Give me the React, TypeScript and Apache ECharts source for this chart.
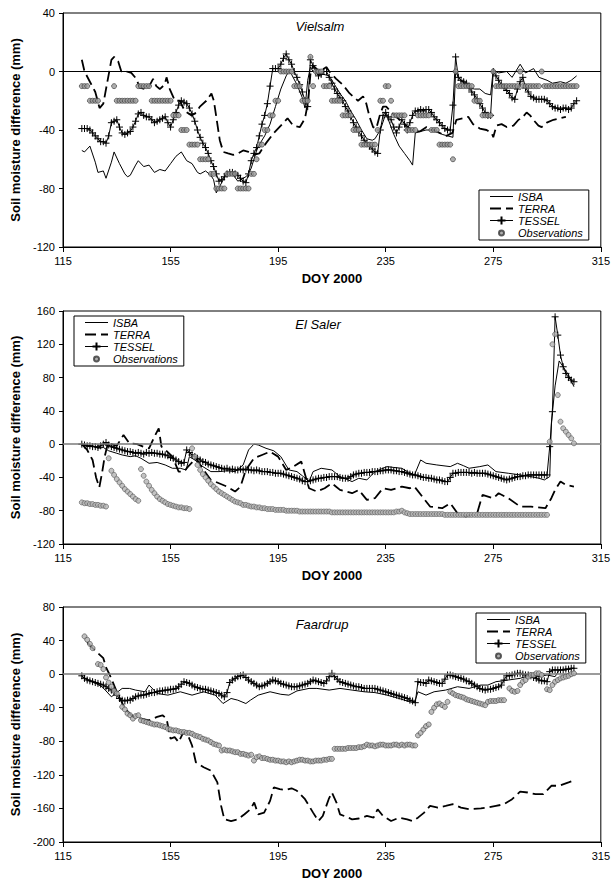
import React, { useEffect, useRef } from "react";
import * as echarts from "echarts";

const FONT = '"Liberation Sans", Arial, Helvetica, sans-serif';

// Axis extents and tick steps
const X_MIN = 115;
const X_MAX = 315;
const X_STEP = 40;
const Y_RANGES: [number, number][] = [
  [-120, 40],
  [-120, 160],
  [-200, 80],
];
const Y_STEP = 40;

const SITES = ["Vielsalm", "El Saler", "Faardrup"];
const X_NAME = "DOY 2000";
const Y_NAME = "Soil moisture difference (mm)";

// ---------- Vielsalm ----------
const VIELSALM_ISBA: [number, number][] = [
  [122, -54], [123, -55], [125, -51], [127, -62], [128, -69], [130, -68], [131, -73], [133, -62], [134, -55],
  [136, -63], [138, -70], [139, -72], [140, -71], [142, -64], [143, -61], [145, -65], [147, -64], [149, -69],
  [151, -67], [153, -68], [155, -63], [157, -58], [159, -55], [161, -61], [163, -63], [165, -69], [166, -70],
  [168, -68], [170, -71], [171, -74], [172, -83], [174, -76], [176, -69], [178, -70], [180, -75], [182, -73],
  [183, -72], [184, -70], [185, -66], [186, -60], [187, -54], [188, -50], [190, -44], [192, -36], [194, -24],
  [196, -12], [198, -3], [199, 0], [200, -2], [202, -9], [204, -18], [205, -25], [206, -6], [207, 3], [208, 0],
  [210, -1], [212, -2], [214, -3], [216, -9], [218, -15], [220, -20], [222, -27], [224, -33], [226, -40],
  [228, -46], [230, -47], [231, -46], [233, -40], [235, -29], [236, -33], [238, -43], [240, -51], [242, -56],
  [244, -61], [245, -64], [246, -42], [248, -41], [250, -40], [252, -40], [254, -41], [256, -43], [258, -44],
  [260, -45], [261, 0], [262, -4], [264, -8], [266, -11], [268, -12], [270, -12], [272, -15], [274, -16],
  [275, 1], [277, -1], [280, 0], [282, -4], [285, 5], [287, -1], [290, 2], [292, -4], [295, -6], [297, -8],
  [300, -7], [302, -8], [304, -6], [306, -3],
];
const VIELSALM_TERRA: [number, number][] = [
  [122, 8], [123, 0], [125, -7], [127, -14], [128.6, -25], [130, -22], [131.4, -8], [133, 8], [134, 10],
  [135.5, 7], [136.7, 0], [138.6, 0], [140.4, -1], [142.3, -5], [143.5, -11], [145.4, -12], [146.5, -12],
  [148.5, -5], [149.7, -10], [151, -12], [152.8, -9], [153.5, -4], [154.7, -12], [156.6, -20], [158.4, -20],
  [160.3, -27], [162.8, -30], [164.6, -28], [165.9, -24], [168.3, -20], [170.2, -15], [171.1, -20], [172, -31],
  [173.3, -47], [174.6, -55], [176.4, -56], [178.3, -57], [180.1, -56], [182, -54], [184, -55], [186, -57],
  [188, -56], [190.5, -49], [193.4, -42], [196, -37], [198.5, -32], [200.6, -37], [203.1, -38], [205, -32],
  [206.2, -20], [207, -2], [208, 4], [210.4, 0], [213, 3], [214, 0], [216.6, -5], [219, -9], [221.6, -15],
  [224.7, -20], [226.6, -17], [227.8, -22], [229, -31], [230.3, -38], [231.5, -39], [232.8, -30], [234, -24],
  [235.2, -24], [237.7, -29], [240.2, -33], [242.7, -37], [245.2, -41], [247.7, -41], [250.2, -38],
  [252.6, -40], [255, -42], [257.6, -44], [259.8, -42], [261.3, -33], [263.8, -32], [265.7, -31], [267.5, -36],
  [270, -39], [272.5, -40], [274.4, -42], [275, -45], [276.2, -37], [278.1, -36], [280, -38], [282.5, -37],
  [284.4, -33], [285.6, -32], [287.4, -28], [288.7, -30], [289.9, -33], [291.8, -37], [293, -38], [294.9, -35],
  [297.4, -33], [299.8, -32], [302, -31],
];
// daily values from DOY 122
const VIELSALM_TESSEL_START = 122;
const VIELSALM_TESSEL = [
  -39, -39, -39, -40, -42, -44, -46, -48, -48, -49,
  -44, -35, -34, -33, -38, -42, -43, -42, -41, -38,
  -34, -29, -28, -30, -31, -31, -33, -35, -34, -33,
  -32, -31, -35, -38, -33, -28, -23, -20, -21, -22,
  -25, -29, -34, -40, -45, -49, -52, -56, -61, -65,
  -70, -75, -74, -72, -70, -69, -69, -70, -71, -73,
  -75, -76, -70, -61, -56, -52, -44, -36, -30, -22,
  -10, 2, 2, 2, 5, 9, 12, 8, 5, 0,
  -4, -9, -14, -20, -24, 8, 4, 0, -3, -2,
  0, 0, -4, -8, -12, -15, -18, -20, -24, -27,
  -31, -35, -38, -41, -44, -47, -49, -51, -53, -55,
  -56, -40, -30, -28, -31, -33, -38, -42, -38, -33,
  -36, -40, -35, -30, -27, -27, -26, -27, -26, -26,
  -28, -31, -33, -35, -37, -39, -40, -40, -23, 10,
  -4, -6, -7, -8, -11, -14, -16, -19, -22, -25,
  -28, -30, -30, 0, -3, -6, -9, -11, -13, -15,
  -18, -19, -12, -7, -4, -11, -14, -17, -18, -19,
  -19, -19, -19, -20, -22, -24, -25, -25, -26, -25,
  -25, -26, -25, -22, -20,
];
const VIELSALM_OBS_START = 122;
const VIELSALM_OBS: (number | null)[] = [
  -10, -10, -10, -20, -20, -20, -20, null, null, null,
  null, null, -10, -20, -20, -20, -20, -20, -20, -20,
  -20, -10, -10, -10, -10, -10, -20, -20, -20, -20,
  -20, -20, -20, -20, -30, -30, -30, -40, -40, -40,
  -50, -50, -50, -50, -60, -60, -60, -60, -70, -70,
  -80, -80, -80, -80, -70, -70, -70, -70, -80, -80,
  -80, -80, -80, -70, -70, -60, -50, -50, -40, -40,
  -30, -30, -20, -20, 0, 0, 0, 0, 0, -10,
  -10, -10, -20, -20, -20, 10, -10, 0, 0, 0,
  -10, -10, -10, -20, -20, -20, -20, -30, -30, -30,
  -30, -40, -40, -40, -50, -50, -50, -50, -50, -50,
  -40, -20, -20, -10, -10, -20, -30, -30, -30, -30,
  -30, -40, -40, -40, -40, -30, -30, -30, -30, -30,
  -40, -40, -40, -50, -50, -50, -50, -50, -60, 0,
  -10, -10, -10, -10, -10, -10, -20, -20, -20, -30,
  -30, -30, -30, 0, -10, -10, -10, -10, -10, -10,
  -10, -10, -10, 0, -10, -10, -10, -10, -10, -10,
  -10, 0, -10, -10, -10, -10, -10, -10, -10, -10,
  -10, -10, -10, -10, -10,
];

// ---------- El Saler ----------
const ELSALER_ISBA: [number, number][] = [
  [122, 0], [124, -3], [126, -2], [128, -5], [130, -4], [132, -8], [135, -11], [137, -13], [140, -15],
  [142, -14], [144, -17], [147, -23], [150, -22], [153, -25], [155.7, -29], [158.6, -29], [160.8, -31],
  [162, -15], [164, -19], [167, -27], [170, -33], [173, -33], [176, -32], [179, -33], [182, -25], [184, -7],
  [186, 0], [187.6, -1], [190.5, -5], [193.4, -8], [196, -15], [199, -31], [202, -33], [204, -38],
  [206.5, -45], [208, -33], [211, -29], [215, -31], [218, -39], [222.5, -45], [225, -41], [228, -43],
  [231, -33], [235.5, -27], [238, -28], [241, -29], [243, -33], [245.7, -37], [248, -19], [250, -23],
  [254, -25], [259, -27], [261.7, -23], [264, -26], [266, -29], [270, -27], [273, -25], [276, -33],
  [280.6, -35], [285, -37], [289, -39], [292, -41], [294, -43], [296, -39], [296.6, 25], [298, 70],
  [299.5, 100], [301, 93], [303, 83], [305, 69],
];
const ELSALER_TERRA: [number, number][] = [
  [122, 0], [124, -7], [126, -19], [127.3, -40], [128.5, -52], [129.5, -35], [130.5, -15], [131.7, 1],
  [133, 0], [135, -2], [137.5, 11], [139.7, 1], [142.6, 0], [144.8, -3], [147, -5], [149, 9], [150.6, 19],
  [151.6, -3], [152.8, -6], [155.7, -15], [158, -33], [160, -33], [161.5, -27], [164.4, -17], [167.3, -31],
  [170, -43], [173, -47], [176, -51], [179, -57], [181, -51], [183, -31], [186, -17], [189, -13], [192, -9],
  [195, -15], [198, -31], [200.7, -27], [203.6, -21], [206.5, -53], [209.4, -57], [212.3, -53], [215, -47],
  [218, -55], [222.5, -59], [225, -55], [228, -67], [231, -65], [234, -53], [237, -55], [241, -51],
  [244, -53], [245.7, -51], [248.6, -63], [251.5, -75], [256, -77], [259, -71], [261.7, -83], [264.6, -87],
  [269, -83], [271, -61], [275, -65], [277, -59], [280.6, -65], [285, -75], [289, -75], [294.4, -77],
  [296.6, -65], [298, -55], [300, -45], [302, -49], [305, -51],
];
const ELSALER_TESSEL_START = 122;
const ELSALER_TESSEL = [
  0, -1, -2, -2, -3, -3, -4, -2, 0, 2,
  -1, -3, -4, -5, -6, -7, -8, -9, -9, -10,
  -11, -10, -11, -12, -10, -11, -10, -11, -11, -12,
  -12, -13, -14, -16, -17, -19, -21, -23, -22, -7,
  -10, -13, -15, -17, -19, -21, -22, -24, -25, -26,
  -27, -28, -29, -30, -29, -31, -30, -31, -31, -30,
  -31, -30, -31, -31, -32, -31, -32, -33, -33, -33,
  -34, -34, -35, -35, -35, -36, -37, -38, -39, -40,
  -41, -42, -44, -45, -45, -44, -43, -42, -41, -41,
  -40, -40, -39, -39, -39, -39, -40, -41, -41, -41,
  -39, -37, -36, -35, -35, -34, -34, -34, -33, -33,
  -33, -32, -32, -31, -31, -31, -32, -32, -33, -33,
  -34, -35, -36, -37, -37, -38, -39, -40, -40, -41,
  -41, -42, -43, -43, -44, -45, -45, -40, -35, -35,
  -34, -34, -34, -34, -34, -35, -34, -35, -35, -35,
  -35, -36, -37, -38, -39, -40, -41, -42, -43, -42,
  -41, -40, -39, -39, -38, -38, -37, -37, -37, -37,
  -37, -37, -37, -37, -3, 39, 153, 131, 107, 93,
  85, 80, 77, 75,
];
const ELSALER_OBS_START = 122;
const ELSALER_OBS: (number | null)[] = [
  -70, -71, -71, -72, -72, -73, -73, -74, -74, -75,
  -17, -32, -37, -42, -46, -50, -54, -57, -60, -63,
  -66, -68, -30, -38, -45, -50, -55, -59, -63, -66,
  -68, -70, -72, -73, -74, -75, -76, -76, -77, -77,
  -78, -5, -15, -25, -31, -36, -40, -44, -48, -51,
  -54, -57, -59, -61, -63, -65, -67, -69, -70, -71,
  -73, -73, -74, -75, -75, -76, -76, -77, -77, -78,
  -78, -78, -79, -79, -79, -79, -80, -80, -80, -80,
  -80, -81, -81, -81, -81, -81, -81, -81, -81, -81,
  -81, -81, -81, -82, -82, -82, -82, -82, -82, -82,
  -82, -82, -82, -82, -82, -82, -82, -82, -82, -82,
  -82, -82, -82, -82, -82, -82, -82, -81, -81, -80,
  -82, -83, -84, -84, -84, -84, -84, -84, -84, -84,
  -84, -84, -84, -84, -84, -85, -85, -85, -85, -85,
  -85, -85, -85, -85, -85, -85, -85, -85, -85, -85,
  -85, -85, -85, -85, -85, -85, -85, -85, -85, -85,
  -85, -85, -85, -85, -85, -85, -85, -85, -85, -85,
  -85, -85, -85, -85, 3, 120, 132, 59, 27, 19,
  15, 11, 7, 1,
];

// ---------- Faardrup ----------
const FAARDRUP_ISBA: [number, number][] = [
  [122, -3], [126, -9], [129.5, -15], [131, -20], [133, -27], [135, -22], [137, -17], [139.7, -17], [142, -19],
  [145.5, -21], [147, -13], [150, -23], [154, -25], [158.6, -21], [163, -25], [167.3, -21], [171.6, -25],
  [174.5, -35], [177.5, -29], [180, -31], [183, -35], [184.7, -31], [187.6, -25], [192, -21], [196, -24],
  [199, -25], [202, -20], [206.5, -17], [209.4, -17], [214, -19], [218, -17], [222.5, -19], [227, -21],
  [231, -22], [235.5, -25], [240, -29], [244, -33], [245.7, -34], [247, -21], [250, -25], [253, -21],
  [257.3, -19], [261.7, -15], [266, -17], [270.4, -13], [273, -13], [276, -9], [280.6, -7], [285, -5],
  [289, -1], [292, -3], [295, -1], [298, -3], [299.5, 5], [302, 5], [305, 7],
];
const FAARDRUP_TERRA: [number, number][] = [
  [124, 38], [126, 31], [128, 25], [130, 19], [131, 8], [132.4, -1], [135, -21], [138, -41], [141, -51],
  [144, -53], [147, -55], [150, -51], [152, -49], [153.5, -53], [155, -77], [156.5, -75], [158, -81],
  [159.5, -71], [161, -69], [163, -85], [164.4, -105], [167.3, -111], [170, -115], [172.4, -129],
  [173.8, -157], [175, -173], [177.5, -175], [180, -173], [182.5, -167], [184.7, -161], [186.1, -153],
  [187.6, -167], [189.8, -165], [192, -151], [193.4, -135], [195.6, -137], [198, -138], [200, -136],
  [202, -139], [205, -149], [208, -165], [210, -175], [211.6, -169], [213.8, -149], [215, -141],
  [216.7, -153], [218, -167], [219.6, -169], [222.5, -173], [225, -172], [228, -169], [230.5, -171],
  [232, -161], [234, -169], [237, -175], [240, -171], [243, -173], [245, -175], [247, -171], [249.3, -165],
  [251.5, -157], [254.4, -159], [257.3, -157], [260, -155], [263, -159], [266, -161], [270.4, -160],
  [273, -159], [276, -157], [279, -155], [282, -149], [285, -140], [287.8, -141], [290.7, -143],
  [293.6, -143], [296.6, -133], [299.5, -133], [303, -129], [305.6, -126],
];
const FAARDRUP_TESSEL_START = 122;
const FAARDRUP_TESSEL = [
  -2, -5, -7, -8, -9, -10, -11, -12, -13, -15,
  -17, -19, -21, -25, -29, -31, -32, -31, -31, -29,
  -27, -26, -25, -25, -24, -23, -22, -22, -21, -20,
  -20, -19, -19, -18, -18, -17, -15, -12, -9, -10,
  -11, -13, -15, -16, -17, -18, -18, -19, -20, -21,
  -22, -23, -25, -27, -22, -10, -7, -5, -3, -2,
  -1, -4, -7, -9, -11, -13, -15, -14, -13, -11,
  -9, -7, -8, -9, -11, -12, -13, -14, -15, -15,
  -15, -14, -13, -12, -11, -9, -7, -8, -9, -10,
  -11, -8, -3, 1, -3, -6, -9, -10, -11, -12,
  -13, -14, -15, -15, -16, -17, -17, -17, -17, -17,
  -18, -19, -20, -21, -22, -23, -24, -25, -26, -27,
  -28, -29, -31, -32, -34, -9, -10, -10, -11, -7,
  -8, -9, -10, -11, -11, -6, -1, -1, -2, -3,
  -4, -5, -6, -8, -9, -11, -13, -15, -17, -18,
  -19, -18, -18, -17, -16, -15, -13, -7, -2, -2,
  -1, 0, 1, 1, 0, -1, -1, -2, -4, -5,
  -7, -8, -8, -9, 3, 5, 5, 5, 5, 5,
  6, 6, 7, 7,
];
const FAARDRUP_OBS_START = 123;
const FAARDRUP_OBS: (number | null)[] = [
  45, 41, 36, 31, null, 12, 11, 6, -4, -10,
  -15, -20, -23, null, -39, -42, -47, -49, -53, -50,
  -49, -55, -56, -57, -58, -59, -60, -60, -61, -62,
  -63, -65, -66, -67, -67, -68, -69, -69, -70, -70,
  -71, -73, -74, -75, -77, -78, -79, -81, -83, -84,
  -85, -91, -90, -91, -91, -92, -93, -93, -95, -95,
  -96, -97, -96, -103, -99, -98, -100, -100, -101, -102,
  -102, -103, -103, -104, -104, -105, -104, -105, -104, -103,
  -102, -102, -103, -103, -104, -104, -103, -103, -103, -102,
  -102, -101, -101, -89, -89, -89, -89, -89, -88, -88,
  -88, -88, -87, -87, -86, -84, -85, -85, -86, -85,
  -84, -84, -85, -85, -85, -84, -84, -85, -84, -85,
  -84, -84, -85, -85, -73, -70, -66, -62, -60, -45,
  -40, -36, -35, -37, -39, -33, -21, -23, -25, -26,
  -27, -28, -30, -31, -32, -33, -34, -35, -36, -37,
  -33, -32, -32, -32, -31, -31, -31, null, -17, -20,
  -21, -20, -13, -9, -7, -3, -1, -1, 1, 1,
  -1, null, -18, -19, -13, -9, -7, -5, -4, -3,
  -2, 0, 1,
];

const daily = (start: number, vals: (number | null)[]) =>
  vals.map((v, i) => [start + i, v]);

const PANELS = [
  {
    isba: VIELSALM_ISBA,
    terra: VIELSALM_TERRA,
    tessel: daily(VIELSALM_TESSEL_START, VIELSALM_TESSEL),
    obs: daily(VIELSALM_OBS_START, VIELSALM_OBS),
  },
  {
    isba: ELSALER_ISBA,
    terra: ELSALER_TERRA,
    tessel: daily(ELSALER_TESSEL_START, ELSALER_TESSEL),
    obs: daily(ELSALER_OBS_START, ELSALER_OBS),
  },
  {
    isba: FAARDRUP_ISBA,
    terra: FAARDRUP_TERRA,
    tessel: daily(FAARDRUP_TESSEL_START, FAARDRUP_TESSEL),
    obs: daily(FAARDRUP_OBS_START, FAARDRUP_OBS),
  },
];

// layout of the three stacked plots
const GRID_LEFT = 63;
const GRID_RIGHT = 12;
const GRID_TOPS = [13, 311, 607];
const GRID_HEIGHTS = [234, 233, 235];
const TITLE_POS = [
  [320, 26],
  [318, 324],
  [322, 624],
];
const LEGEND_POS = [
  [479, 190],
  [74, 316],
  [476, 613],
];
const ZERO_STYLE = [
  { color: "#000", width: 1 },
  { color: "#7a7a7a", width: 1.6 },
  { color: "#7a7a7a", width: 1.5 },
];
const OBS_STYLE = [
  { color: "#9a9a9a", borderColor: "#333", borderWidth: 0.8 },
  { color: "#b4b4b4", borderColor: "#555", borderWidth: 0.8 },
  { color: "#b0b0b0", borderColor: "#444", borderWidth: 0.8 },
];

const PLUS = "path://M0,3.5L7,3.5M3.5,0L3.5,7";
const DOT_ICON =
  "path://M0,0M23,10M9,5a2.5,2.5 0 1,0 5,0a2.5,2.5 0 1,0 -5,0z";
const CLEAR = "rgba(0,0,0,0)";

export default function App() {
  const ref = useRef<HTMLDivElement>(null);

  useEffect(() => {
    document.body.style.margin = "0";
    if (!ref.current) return;
    const chart = echarts.init(ref.current, undefined, { renderer: "svg" });

    const grid = GRID_TOPS.map((top, i) => ({
      left: GRID_LEFT,
      right: GRID_RIGHT,
      top,
      height: GRID_HEIGHTS[i],
      show: true,
      borderColor: "#000",
      borderWidth: 1,
      backgroundColor: "transparent",
    }));

    const xAxis = GRID_TOPS.map((_, i) => ({
      type: "value",
      gridIndex: i,
      min: X_MIN,
      max: X_MAX,
      interval: X_STEP,
      name: X_NAME,
      nameLocation: "middle",
      nameGap: 25,
      nameTextStyle: { fontFamily: FONT, fontWeight: "bold", fontSize: 13, color: "#000" },
      axisLine: { onZero: false, lineStyle: { color: "#000", width: 1 } },
      axisTick: { show: true, length: 5, lineStyle: { color: "#000" } },
      axisLabel: { margin: 8, fontFamily: FONT, fontSize: 11, color: "#000" },
      splitLine: { show: false },
    }));

    const yAxis = Y_RANGES.map(([min, max], i) => ({
      type: "value",
      gridIndex: i,
      min,
      max,
      interval: Y_STEP,
      name: Y_NAME,
      nameLocation: "middle",
      nameGap: 40,
      nameTextStyle: { fontFamily: FONT, fontWeight: "bold", fontSize: 13, color: "#000" },
      axisLine: { onZero: false, lineStyle: { color: "#000", width: 1 } },
      axisTick: { show: true, length: 4, lineStyle: { color: "#000" } },
      axisLabel: { margin: 8, fontFamily: FONT, fontSize: 11, color: "#000" },
      splitLine: { show: false },
    }));

    const series: any[] = [];
    PANELS.forEach((p, i) => {
      series.push({
        name: "ISBA",
        type: "line",
        xAxisIndex: i,
        yAxisIndex: i,
        data: p.isba,
        symbol: "circle",
        showSymbol: false,
        lineStyle: { color: "#000", width: 1 },
        itemStyle: { color: CLEAR },
        z: 3,
        markLine: {
          silent: true,
          symbol: "none",
          label: { show: false },
          data: [{ yAxis: 0 }],
          lineStyle: { ...ZERO_STYLE[i], type: "solid" },
        },
      });
      series.push({
        name: "TERRA",
        type: "line",
        xAxisIndex: i,
        yAxisIndex: i,
        data: p.terra,
        symbol: "circle",
        showSymbol: false,
        lineStyle: { color: "#000", width: 1.8, type: [11, 5] },
        itemStyle: { color: CLEAR },
        z: 3,
      });
      series.push({
        name: "TESSEL",
        type: "line",
        xAxisIndex: i,
        yAxisIndex: i,
        data: p.tessel,
        symbol: PLUS,
        symbolSize: 7,
        showAllSymbol: true,
        lineStyle: { color: "#000", width: 1 },
        itemStyle: { color: "#000", borderColor: "#000", borderWidth: 1 },
        z: 4,
      });
      series.push({
        name: "Observations",
        type: "scatter",
        xAxisIndex: i,
        yAxisIndex: i,
        data: p.obs,
        symbol: "circle",
        symbolSize: 5,
        itemStyle: OBS_STYLE[i],
        z: 5,
      });
    });

    const legend = LEGEND_POS.map(([left, top]) => ({
      left,
      top,
      orient: "vertical",
      data: [
        {
          name: "ISBA",
          itemStyle: { color: CLEAR, borderWidth: 0 },
          lineStyle: { width: 1, color: "#000" },
        },
        {
          name: "TERRA",
          itemStyle: { color: CLEAR, borderWidth: 0 },
          lineStyle: { width: 1.8, color: "#000", type: [11, 5] },
        },
        { name: "TESSEL", lineStyle: { width: 1, color: "#000" } },
        { name: "Observations", icon: DOT_ICON },
      ],
      itemWidth: 23,
      itemHeight: 10,
      itemGap: 1,
      padding: [1, 6, 1, 10],
      borderColor: "#000",
      borderWidth: 1,
      backgroundColor: "#fff",
      selectedMode: false,
      textStyle: {
        fontFamily: FONT,
        fontStyle: "italic",
        fontSize: 11,
        color: "#000",
        lineHeight: 11,
      },
    }));

    const graphic = SITES.map((s, i) => ({
      type: "text",
      x: TITLE_POS[i][0],
      y: TITLE_POS[i][1],
      silent: true,
      style: {
        text: s,
        fontFamily: FONT,
        fontStyle: "italic",
        fontSize: 13,
        fill: "#000",
        align: "center",
        verticalAlign: "middle",
      },
    }));

    chart.setOption({
      animation: false,
      backgroundColor: "#fff",
      grid,
      xAxis,
      yAxis,
      series,
      legend,
      graphic,
    });

    return () => chart.dispose();
  }, []);

  return <div ref={ref} style={{ width: 613, height: 885 }} />;
}
